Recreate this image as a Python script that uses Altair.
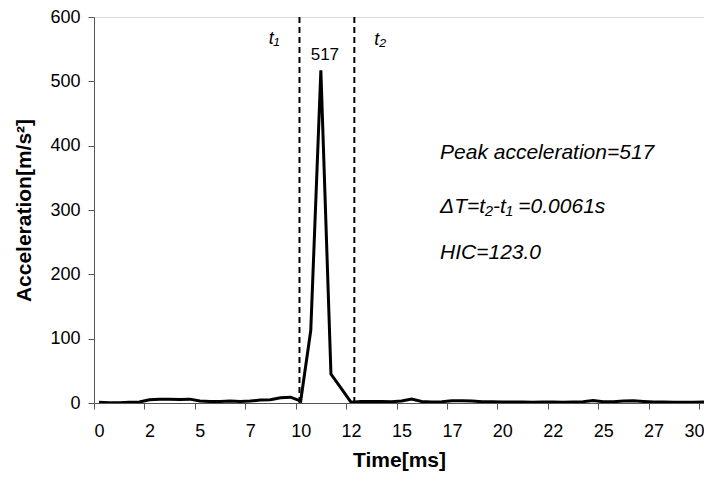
import json
import altair as alt
import pandas as pd

# ---- data ----
time_ms = [0.0, 0.5, 1.0, 1.5, 2.0, 2.5, 3.0, 3.5, 4.0, 4.5,
           5.0, 5.5, 6.0, 6.5, 7.0, 7.5, 8.0, 8.5, 9.0, 9.5,
           10.0, 10.5, 11.0, 11.5, 12.0, 12.5, 13.0, 13.5, 14.0, 14.5,
           15.0, 15.5, 16.0, 16.5, 17.0, 17.5, 18.0, 18.5, 19.0, 19.5,
           20.0, 20.5, 21.0, 21.5, 22.0, 22.5, 23.0, 23.5, 24.0, 24.5,
           25.0, 25.5, 26.0, 26.5, 27.0, 27.5, 28.0, 28.5, 29.0, 29.5,
           30.0, 30.5]
acceleration = [1, 0.5, 0.5, 1, 1.5, 5, 6, 6, 5.5, 6,
                3, 2.5, 2.5, 3, 2.5, 3, 4.5, 5, 8, 9,
                3, 113, 517, 45, 23, 1, 2.5, 2.5, 2.5, 2,
                3, 6, 2.5, 1.5, 2, 3.5, 3.5, 3, 2, 2,
                1.5, 1.5, 1.5, 1, 1.5, 1.5, 1, 1.5, 2, 4,
                2, 2, 3, 3.5, 2.5, 1.5, 1.5, 1, 1, 1,
                1.5, 1.5]

tick_values = [0, 2.5, 5, 7.5, 10, 12.5, 15, 17.5, 20, 22.5, 25, 27.5, 30]
tick_labels = ["0", "2", "5", "7", "10", "12", "15", "17", "20", "22", "25", "27", "30"]
y_ticks = [0, 100, 200, 300, 400, 500, 600]

t_lines = [9.94, 12.66]
t_names = ["t\u2081", "t\u2082"]
t_label_x = [8.68, 13.94]
t_label_y = [566, 564]

peak_time = 11.0
peak_value = 517

notes = ["Peak acceleration=517", "\u0394T=t\u2082-t\u2081 =0.0061s", "HIC=123.0"]
notes_x = [16.91, 16.91, 16.91]
notes_y = [388, 305, 233]

FONT = "Liberation Sans"

df = pd.DataFrame({"t": time_ms, "a": acceleration})
df_lines = pd.DataFrame({"t": t_lines})
df_tl = pd.DataFrame({"t": t_label_x, "a": t_label_y, "txt": t_names})
df_peak = pd.DataFrame({"t": [peak_time], "a": [peak_value], "txt": [str(peak_value)]})
df_notes = pd.DataFrame({"t": notes_x, "a": notes_y, "txt": notes})

xscale = alt.Scale(domain=[-0.25, 30.0], nice=False, zero=False)
yscale = alt.Scale(domain=[0, 600], nice=False)

label_expr = json.dumps(tick_labels) + "[round(datum.value / 2.5)]"

xaxis = alt.Axis(
    values=tick_values, labelExpr=label_expr, tickOffset=-5, labelOffset=5,
    tickSize=6, tickColor="#555", domainColor="#555", grid=False,
    labelFont=FONT, labelFontSize=18, labelColor="black", labelPadding=13,
    labelAlign={"condition": {"test": "datum.value >= 30", "value": "right"}, "value": "center"},
    title="Time[ms]", titleFont=FONT, titleFontSize=21, titleFontWeight="bold",
    titleColor="black", titlePadding=9, labelFlush=False, labelOverlap=False,
)
yaxis = alt.Axis(
    values=y_ticks, tickSize=6, tickColor="#555", domainColor="#555", grid=False,
    labelFont=FONT, labelFontSize=18, labelColor="black", labelPadding=8,
    title="Acceleration[m/s\u00b2]", titleFont=FONT, titleFontSize=21,
    titleFontWeight="bold", titleColor="black", titlePadding=15,
)

line = alt.Chart(df).mark_line(color="black", strokeWidth=3, clip=True).encode(
    x=alt.X("t:Q", scale=xscale, axis=xaxis),
    y=alt.Y("a:Q", scale=yscale, axis=yaxis),
)

rules = alt.Chart(df_lines).mark_rule(color="black", strokeWidth=2, strokeDash=[6, 4]).encode(
    x=alt.X("t:Q", scale=xscale),
    y=alt.datum(0),
    y2=alt.datum(600),
)

tlabels = alt.Chart(df_tl).mark_text(font=FONT, fontSize=18, fontStyle="italic", color="black").encode(
    x=alt.X("t:Q", scale=xscale), y=alt.Y("a:Q", scale=yscale), text="txt:N"
)

peak = alt.Chart(df_peak).mark_text(font=FONT, fontSize=17, color="black", dy=-15, dx=4).encode(
    x=alt.X("t:Q", scale=xscale), y=alt.Y("a:Q", scale=yscale), text="txt:N"
)

note_text = alt.Chart(df_notes).mark_text(font=FONT, fontSize=21, fontStyle="italic", color="black",
                                          align="left").encode(
    x=alt.X("t:Q", scale=xscale), y=alt.Y("a:Q", scale=yscale), text="txt:N"
)

chart = alt.layer(line, rules, tlabels, peak, note_text).properties(
    width=610, height=386,
    autosize=alt.AutoSizeParams(type="none"),
    padding={"left": 86, "top": 9, "right": 0, "bottom": 70},
).configure_view(stroke=None).configure(background="white")

chart.save("out.html", embed_options={"renderer": "svg", "actions": False})
